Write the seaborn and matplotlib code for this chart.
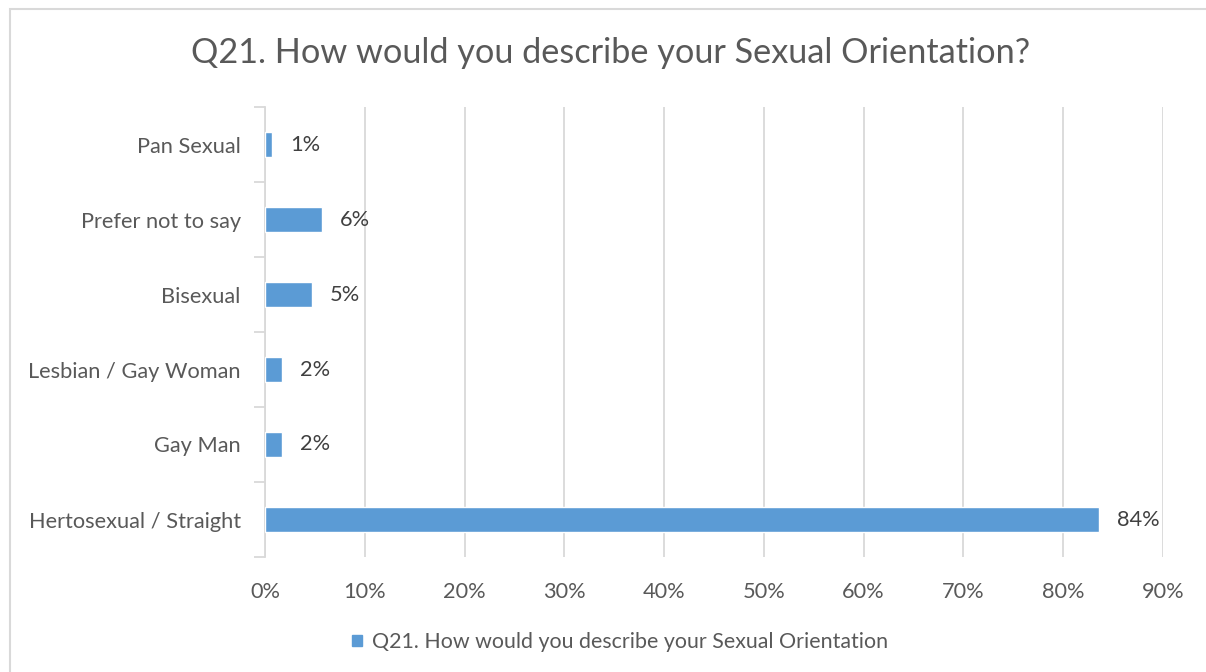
import matplotlib
matplotlib.use("Agg")
import matplotlib.pyplot as plt
from matplotlib.patches import Rectangle
from matplotlib.ticker import FixedLocator, PercentFormatter
import seaborn as sns
import pandas as pd

# Survey responses (share of respondents)
categories = ["Pan Sexual", "Prefer not to say", "Bisexual",
              "Lesbian / Gay Woman", "Gay Man", "Hertosexual / Straight"]
shares = [0.007, 0.057, 0.047, 0.017, 0.017, 0.836]
x_ticks = [0.0, 0.1, 0.2, 0.3, 0.4, 0.5, 0.6, 0.7, 0.8, 0.9]
title = "Q21. How would you describe your Sexual Orientation?"
series_name = "Q21. How would you describe your Sexual Orientation"

df = pd.DataFrame({"category": categories, "share": shares})

sns.set_theme(style="white")
plt.rcParams["font.family"] = ["Lato", "DejaVu Sans"]

TEXT = "#595959"
BAR = "#5B9BD5"
GRID = "#D9D9D9"
FS = 15.7

fig = plt.figure(figsize=(12.06, 6.72), dpi=100)
fig.patch.set_facecolor("white")
ax = fig.add_axes([265 / 1206, 1 - 557 / 672, (1163 - 265) / 1206, (557 - 107) / 672])

sns.barplot(data=df, x="share", y="category", orient="h", color=BAR,
            width=0.34, saturation=1, ax=ax, zorder=3)

ax.set_xlim(0, 0.9)
ax.set_ylim(len(categories) - 0.5, -0.5)
ax.xaxis.set_major_locator(FixedLocator(x_ticks))
ax.xaxis.set_major_formatter(PercentFormatter(1.0, decimals=0))
ax.grid(axis="x", color=GRID, linewidth=1.3, zorder=0)
ax.set_axisbelow(True)
ax.set_xlabel("")
ax.set_ylabel("")

for side in ("top", "right", "bottom"):
    ax.spines[side].set_visible(False)
ax.spines["left"].set_color(GRID)
ax.spines["left"].set_linewidth(1.3)

ax.tick_params(axis="x", length=0, pad=18, labelsize=FS, labelcolor=TEXT)
ax.tick_params(axis="y", which="major", left=False, length=0, pad=17.5,
               labelsize=FS, labelcolor=TEXT)
ax.yaxis.set_minor_locator(FixedLocator([i - 0.5 for i in range(len(categories) + 1)]))
ax.tick_params(axis="y", which="minor", left=True, length=8, width=1.3,
               color=GRID, direction="out")

# value labels
for i, v in enumerate(shares):
    ax.annotate(f"{v:.0%}", xy=(v, i), xytext=(13, 0), textcoords="offset points",
                ha="left", va="center", fontsize=FS, color="#404040")

fig.text(611 / 1206, 1 - 53 / 672, title, ha="center", va="center",
         fontsize=24.7, color=TEXT)

# legend
legend = ax.legend(handles=[Rectangle((0, 0), 1, 1, color=BAR)], labels=[series_name],
                   loc="center", bbox_to_anchor=(620 / 1206, 1 - 642 / 672),
                   bbox_transform=fig.transFigure, frameon=False, fontsize=15.4,
                   handlelength=0.45, handleheight=0.45, handletextpad=0.45)
for t in legend.get_texts():
    t.set_color(TEXT)

# chart border
fig.add_artist(Rectangle((9.5 / 1206, -0.1), 1.2, 1 - 8.5 / 672 + 0.1,
                         transform=fig.transFigure, fill=False,
                         edgecolor=GRID, linewidth=1.5))

fig.savefig("out.png", dpi=100, facecolor="white")
